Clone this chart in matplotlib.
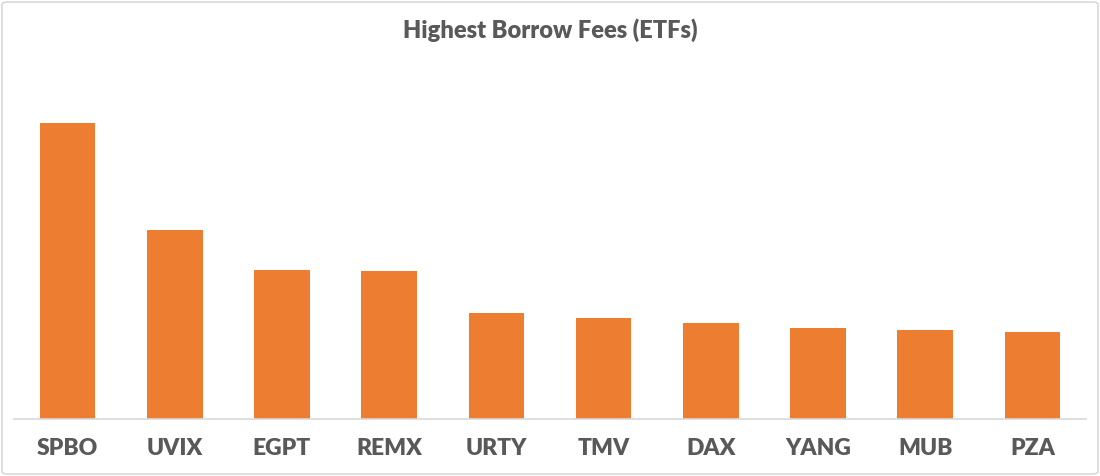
import matplotlib.pyplot as plt
from matplotlib.patches import FancyBboxPatch

tickers = ["SPBO", "UVIX", "EGPT", "REMX", "URTY", "TMV", "DAX", "YANG", "MUB", "PZA"]
fees = [296, 189, 149, 148, 106, 101, 96, 91, 89, 87]

bar_color = "#ED7D31"
text_color = "#595959"

plt.rcParams["font.family"] = ["Lato", "DejaVu Sans"]

fig = plt.figure(figsize=(11, 4.76), dpi=100)
ax = fig.add_axes([14 / 1100, 57 / 476, 1072 / 1100, 359 / 476])

ax.bar(range(len(tickers)), fees, width=0.52, color=bar_color)
ax.set_xlim(-0.5, len(tickers) - 0.5)
ax.set_ylim(0, 359)

ax.set_xticks(range(len(tickers)))
ax.set_xticklabels(tickers, fontsize=16.5, fontweight="heavy", color=text_color)
ax.tick_params(axis="x", length=0, pad=14)
ax.set_yticks([])
for side in ["top", "left", "right"]:
    ax.spines[side].set_visible(False)
ax.spines["bottom"].set_color("#D9D9D9")
ax.spines["bottom"].set_linewidth(1.2)

fig.text(0.5, 1 - 30 / 476, "Highest Borrow Fees (ETFs)", ha="center", va="center",
         fontsize=17, fontweight="heavy", color=text_color)

border = FancyBboxPatch((2 / 1100, 2 / 476), 1096 / 1100, 472 / 476,
                        boxstyle="round,pad=0,rounding_size=0.005",
                        transform=fig.transFigure, fill=False,
                        edgecolor="#D9D9D9", linewidth=1.2)
fig.patches.append(border)

fig.savefig("out.png", dpi=100)
